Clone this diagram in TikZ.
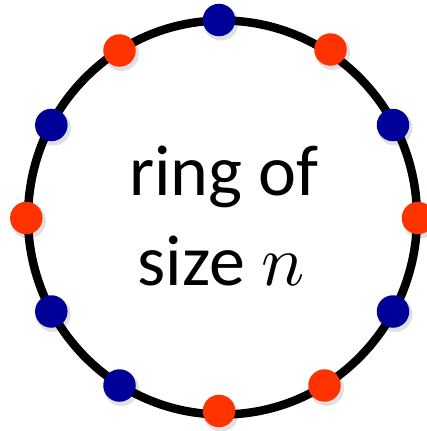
\documentclass[tikz,border=0pt]{standalone}
\usepackage{fontspec}
\setmainfont{Carlito}
\newfontfamily\nfont{Latin Modern Math}
\definecolor{dotblue}{RGB}{0,0,153}
\definecolor{dotred}{RGB}{255,51,0}
\begin{document}
\begin{tikzpicture}[x=1pt,y=-1pt,
  ringline/.style={line width=8.5pt,black},
  dotshadow/.style={circle,inner sep=0pt,minimum size=35pt,fill=black,fill opacity=0.12},
  bluedot/.style={circle,inner sep=0pt,minimum size=32.5pt,fill=dotblue},
  reddot/.style={circle,inner sep=0pt,minimum size=32.5pt,fill=dotred},
  lbl/.style={anchor=base,font=\fontsize{72}{80}\selectfont,inner sep=0pt}]
\useasboundingbox (0,0) rectangle (427,431);
\coordinate (c) at (222.5,217.5);
\draw[ringline] (c) ellipse [x radius=194.5pt,y radius=197pt];
\foreach \n/\x/\y/\s in {d1/219/20/bluedot, d2/330.5/49.5/reddot, d3/393/125/bluedot, d4/418/218/reddot,
  d5/393/311.5/bluedot, d6/324.5/385.5/reddot, d7/219/411/reddot, d8/119.5/385.5/bluedot,
  d9/51.3/311.5/bluedot, d10/26.3/218/reddot, d11/51.3/125/bluedot, d12/119.5/50.5/reddot}{
  \node[dotshadow] at (\x+2,\y+3) {};
  \node[\s] (\n) at (\x,\y) {};
}
\node[lbl] (t1) at (224,195) {ring of};
\node[lbl] (t2) at (221,285) {size {\nfont 𝑛}};
\end{tikzpicture}
\end{document}
